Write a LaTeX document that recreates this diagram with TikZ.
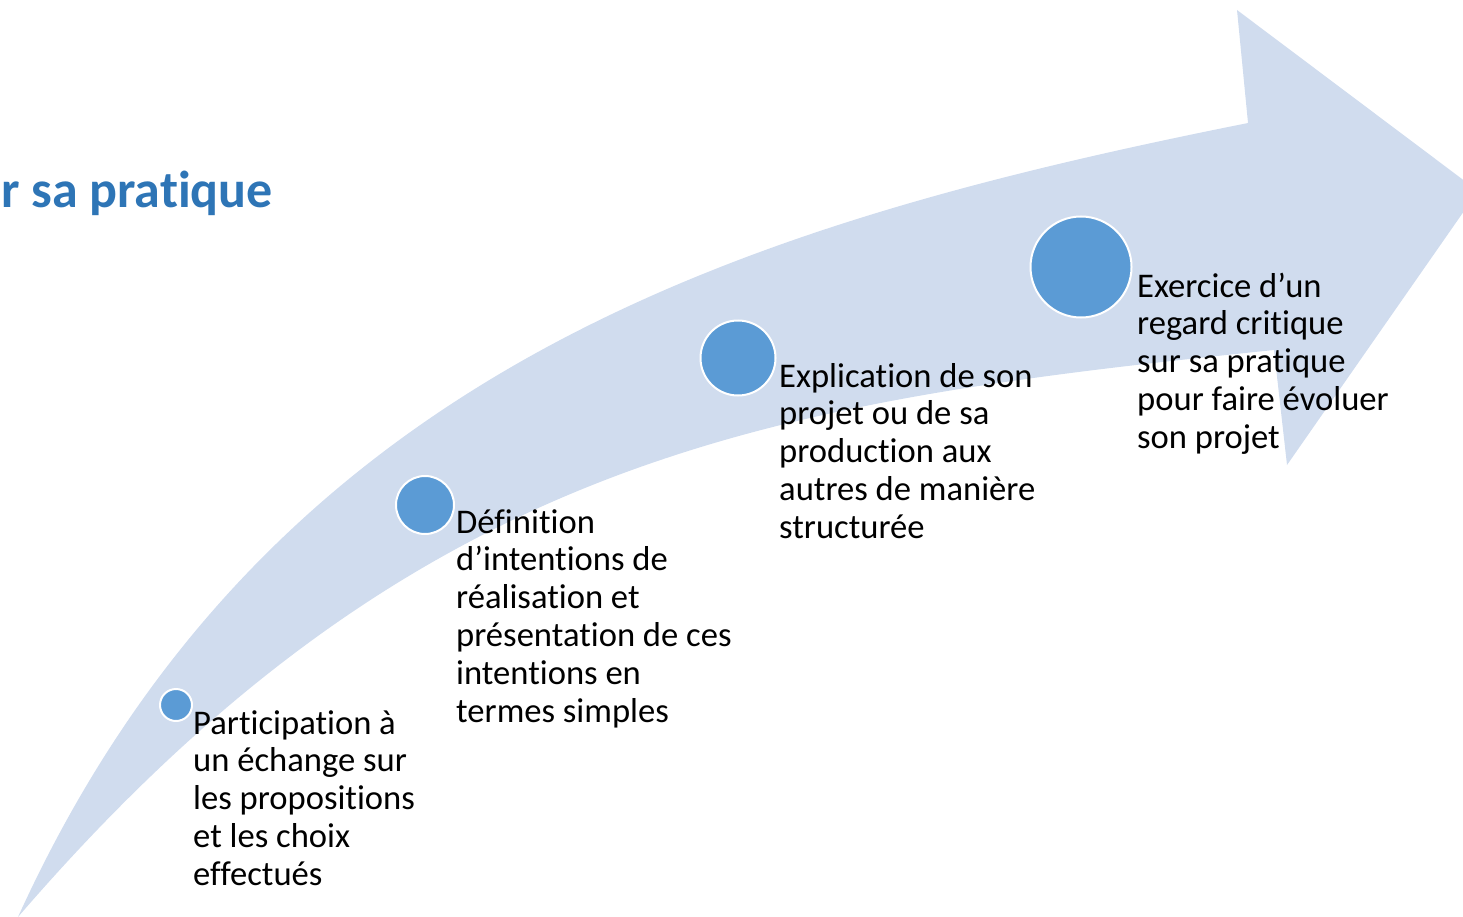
\documentclass[tikz,border=0pt]{standalone}
\usepackage{fontspec}
\setmainfont{Carlito}[Ligatures=NoCommon, RawFeature=-liga]
\definecolor{bandcol}{RGB}{208,220,238}
\definecolor{dotblue}{HTML}{5B9BD5}
\definecolor{titleblue}{HTML}{2E75B6}
\begin{document}
\begin{tikzpicture}[x=1pt,y=-1pt,
  dot/.style={circle, fill=dotblue, draw=white, line width=2pt, inner sep=0pt},
  steptext/.style={anchor=base west, inner sep=0pt, text=black, font=\fontsize{34.6}{37.8}\selectfont},
  titletext/.style={anchor=base east, inner sep=0pt, text=titleblue, font=\fontsize{52}{60}\selectfont\bfseries}]
\path[use as bounding box] (0,0) rectangle (1463,917);
\clip (0,0) rectangle (1463,917);
% curved arrow band
\fill[bandcol] (18,917) .. controls (268,367) and (748,223) .. (1248,123)
  -- (1237,10) -- (1478,191) -- (1287,465) -- (1274,350)
  .. controls (772,402) and (418,453) .. (18,917) -- cycle;
% title (partly cut)
\node[titletext] (title) at (273,208) {r sa pratique};
% dots
\node[dot, minimum size=32pt] (d1) at (176,705) {};
\node[dot, minimum size=58pt] (d2) at (425,505) {};
\node[dot, minimum size=75pt] (d3) at (738,358) {};
\node[dot, minimum size=101pt] (d4) at (1081,267) {};
% texts
\node[steptext] (t1) at (193,734) {\begin{tabular}[t]{@{}l@{}}Participation à\\un échange sur\\les propositions\\et les choix\\effectués\end{tabular}};
\node[steptext] (t2) at (456,533) {\begin{tabular}[t]{@{}l@{}}Définition\\d’intentions de\\réalisation et\\présentation de ces\\intentions en\\termes simples\end{tabular}};
\node[steptext] (t3) at (779,387) {\begin{tabular}[t]{@{}l@{}}Explication de son\\projet ou de sa\\production aux\\autres de manière\\structurée\end{tabular}};
\node[steptext] (t4) at (1137,297) {\begin{tabular}[t]{@{}l@{}}Exercice d’un\\regard critique\\sur sa pratique\\pour faire évoluer\\son projet\end{tabular}};
\end{tikzpicture}
\end{document}
